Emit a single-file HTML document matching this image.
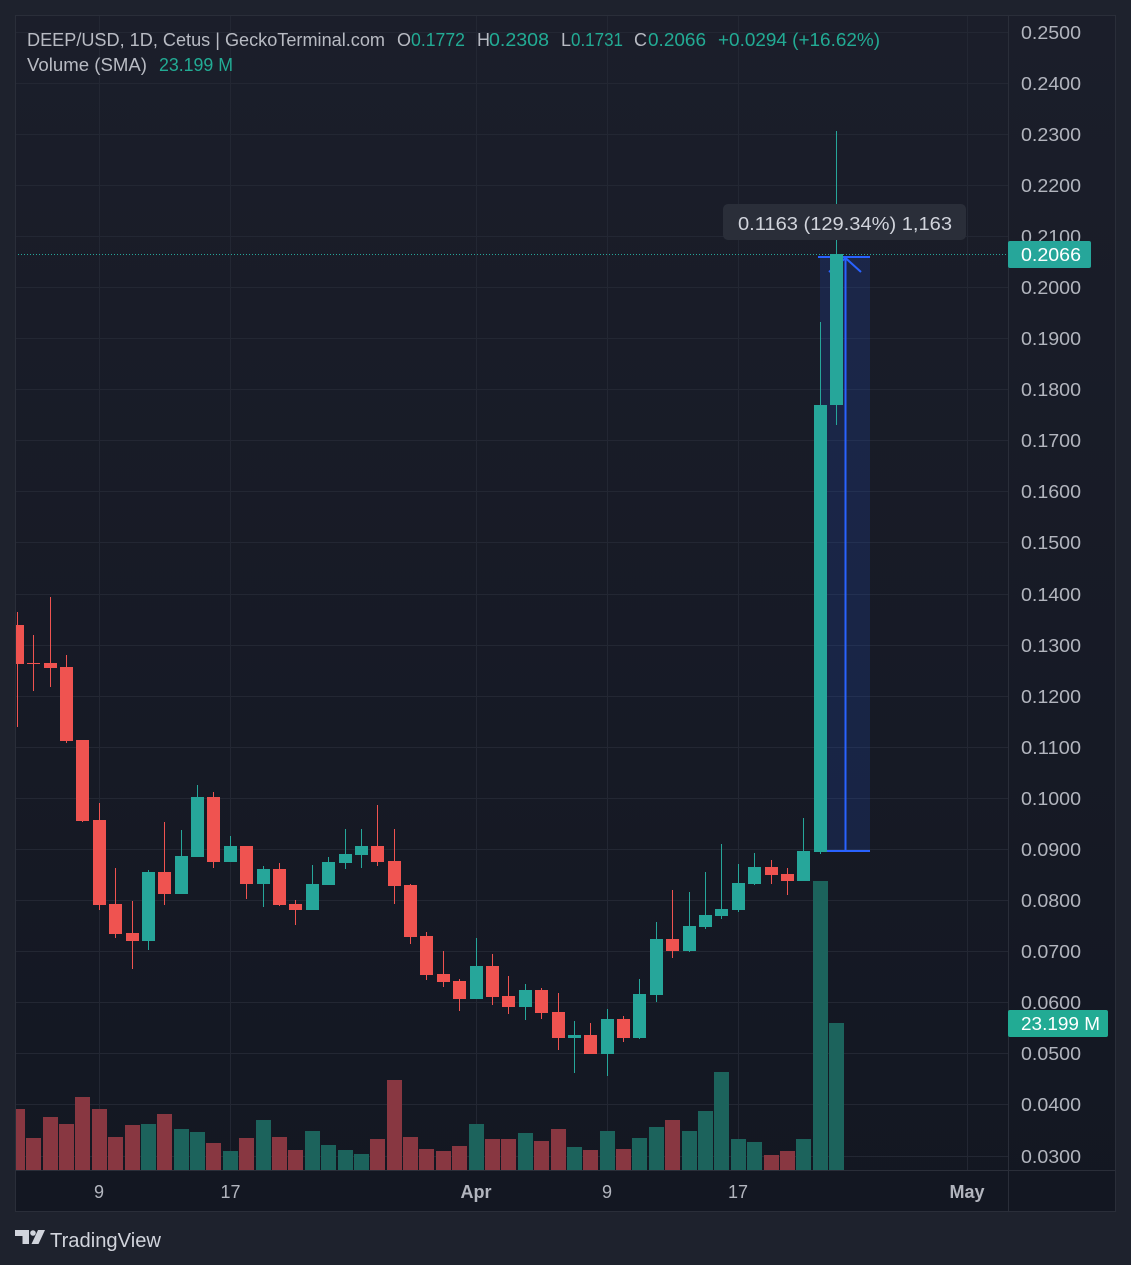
<!DOCTYPE html>
<html>
<head>
<meta charset="utf-8">
<style>
html,body{margin:0;padding:0;background:#1e222d;}
svg{display:block;}
text{font-family:"Liberation Sans",sans-serif;}
</style>
</head>
<body>
<svg width="1131" height="1265" viewBox="0 0 1131 1265" xmlns="http://www.w3.org/2000/svg">
<defs>
<linearGradient id="bg" x1="0" y1="0" x2="0" y2="1">
<stop offset="0" stop-color="#1b1e2a"/>
<stop offset="1" stop-color="#131722"/>
</linearGradient>
<clipPath id="pane"><rect x="16" y="16" width="992" height="1154"/></clipPath>
</defs>
<rect x="0" y="0" width="1131" height="1265" fill="#1e222d"/>
<rect x="15" y="15" width="1101" height="1197" fill="url(#bg)"/>

<g clip-path="url(#pane)">
<!-- horizontal grid -->
<g stroke="#232733" stroke-width="1">
<line x1="15" x2="1008" y1="32.5" y2="32.5"/>
<line x1="15" x2="1008" y1="83.5" y2="83.5"/>
<line x1="15" x2="1008" y1="134.5" y2="134.5"/>
<line x1="15" x2="1008" y1="185.5" y2="185.5"/>
<line x1="15" x2="1008" y1="236.5" y2="236.5"/>
<line x1="15" x2="1008" y1="287.5" y2="287.5"/>
<line x1="15" x2="1008" y1="338.5" y2="338.5"/>
<line x1="15" x2="1008" y1="389.5" y2="389.5"/>
<line x1="15" x2="1008" y1="440.5" y2="440.5"/>
<line x1="15" x2="1008" y1="491.5" y2="491.5"/>
<line x1="15" x2="1008" y1="542.5" y2="542.5"/>
<line x1="15" x2="1008" y1="594.5" y2="594.5"/>
<line x1="15" x2="1008" y1="645.5" y2="645.5"/>
<line x1="15" x2="1008" y1="696.5" y2="696.5"/>
<line x1="15" x2="1008" y1="747.5" y2="747.5"/>
<line x1="15" x2="1008" y1="798.5" y2="798.5"/>
<line x1="15" x2="1008" y1="849.5" y2="849.5"/>
<line x1="15" x2="1008" y1="900.5" y2="900.5"/>
<line x1="15" x2="1008" y1="951.5" y2="951.5"/>
<line x1="15" x2="1008" y1="1002.5" y2="1002.5"/>
<line x1="15" x2="1008" y1="1053.5" y2="1053.5"/>
<line x1="15" x2="1008" y1="1104.5" y2="1104.5"/>
<line x1="15" x2="1008" y1="1156.5" y2="1156.5"/>
<!-- vertical grid -->
<line x1="99.5" x2="99.5" y1="15" y2="1170"/>
<line x1="230.5" x2="230.5" y1="15" y2="1170"/>
<line x1="476.5" x2="476.5" y1="15" y2="1170"/>
<line x1="607.5" x2="607.5" y1="15" y2="1170"/>
<line x1="738.5" x2="738.5" y1="15" y2="1170"/>
<line x1="967.5" x2="967.5" y1="15" y2="1170"/>
</g>

<!-- volume bars -->
<g fill="#883741">
<rect x="10" y="1109" width="15" height="61"/>
<rect x="26" y="1138" width="15" height="32"/>
<rect x="43" y="1117" width="15" height="53"/>
<rect x="59" y="1124" width="15" height="46"/>
<rect x="75" y="1097" width="15" height="73"/>
<rect x="92" y="1109" width="15" height="61"/>
<rect x="108" y="1137" width="15" height="33"/>
<rect x="125" y="1125" width="15" height="45"/>
<rect x="157" y="1114" width="15" height="56"/>
<rect x="206" y="1143" width="15" height="27"/>
<rect x="239" y="1138" width="15" height="32"/>
<rect x="272" y="1137" width="15" height="33"/>
<rect x="288" y="1150" width="15" height="20"/>
<rect x="370" y="1139" width="15" height="31"/>
<rect x="387" y="1080" width="15" height="90"/>
<rect x="403" y="1137" width="15" height="33"/>
<rect x="419" y="1149" width="15" height="21"/>
<rect x="436" y="1151" width="15" height="19"/>
<rect x="452" y="1146" width="15" height="24"/>
<rect x="485" y="1139" width="15" height="31"/>
<rect x="501" y="1139" width="15" height="31"/>
<rect x="534" y="1141" width="15" height="29"/>
<rect x="551" y="1129" width="15" height="41"/>
<rect x="583" y="1150" width="15" height="20"/>
<rect x="616" y="1149" width="15" height="21"/>
<rect x="665" y="1120" width="15" height="50"/>
<rect x="764" y="1155" width="15" height="15"/>
<rect x="780" y="1151" width="15" height="19"/>
</g>
<g fill="#1c635c">
<rect x="141" y="1124" width="15" height="46"/>
<rect x="174" y="1129" width="15" height="41"/>
<rect x="190" y="1132" width="15" height="38"/>
<rect x="223" y="1151" width="15" height="19"/>
<rect x="256" y="1120" width="15" height="50"/>
<rect x="305" y="1131" width="15" height="39"/>
<rect x="321" y="1145" width="15" height="25"/>
<rect x="338" y="1150" width="15" height="20"/>
<rect x="354" y="1154" width="15" height="16"/>
<rect x="469" y="1124" width="15" height="46"/>
<rect x="518" y="1133" width="15" height="37"/>
<rect x="567" y="1147" width="15" height="23"/>
<rect x="600" y="1131" width="15" height="39"/>
<rect x="632" y="1138" width="15" height="32"/>
<rect x="649" y="1127" width="15" height="43"/>
<rect x="682" y="1131" width="15" height="39"/>
<rect x="698" y="1111" width="15" height="59"/>
<rect x="714" y="1072" width="15" height="98"/>
<rect x="731" y="1139" width="15" height="31"/>
<rect x="747" y="1142" width="15" height="28"/>
<rect x="796" y="1139" width="15" height="31"/>
<rect x="813" y="881" width="15" height="289"/>
<rect x="829" y="1023" width="15" height="147"/>
</g>

<!-- dotted last price line -->
<line x1="15" x2="1008" y1="254.5" y2="254.5" stroke="#26a69a" stroke-width="1" stroke-dasharray="1 2"/>

<!-- measure drawing -->
<rect x="820" y="257" width="50" height="593" fill="#2962ff" fill-opacity="0.15"/>
<g stroke="#2962ff" stroke-width="2" fill="none">
<line x1="818" x2="870" y1="257" y2="257"/>
<line x1="820" x2="870" y1="851" y2="851"/>
<line x1="845.5" x2="845.5" y1="258" y2="851"/>
<polyline points="829,272 845.5,258 861,272"/>
</g>

<!-- red candles -->
<g fill="#ef5350">
<rect x="17" y="612" width="1" height="115"/><rect x="11" y="625" width="13" height="39"/>
<rect x="33" y="635" width="1" height="56"/><rect x="27" y="663" width="13" height="1"/>
<rect x="50" y="597" width="1" height="90"/><rect x="44" y="663" width="13" height="5"/>
<rect x="66" y="655" width="1" height="88"/><rect x="60" y="667" width="13" height="74"/>
<rect x="82" y="740" width="1" height="82"/><rect x="76" y="740" width="13" height="81"/>
<rect x="99" y="803" width="1" height="107"/><rect x="93" y="820" width="13" height="85"/>
<rect x="115" y="868" width="1" height="70"/><rect x="109" y="904" width="13" height="30"/>
<rect x="132" y="901" width="1" height="68"/><rect x="126" y="933" width="13" height="8"/>
<rect x="164" y="822" width="1" height="83"/><rect x="158" y="872" width="13" height="22"/>
<rect x="213" y="792" width="1" height="76"/><rect x="207" y="797" width="13" height="65"/>
<rect x="246" y="846" width="1" height="53"/><rect x="240" y="846" width="13" height="38"/>
<rect x="279" y="863" width="1" height="43"/><rect x="273" y="869" width="13" height="36"/>
<rect x="295" y="900" width="1" height="25"/><rect x="289" y="904" width="13" height="6"/>
<rect x="377" y="805" width="1" height="61"/><rect x="371" y="846" width="13" height="16"/>
<rect x="394" y="829" width="1" height="75"/><rect x="388" y="861" width="13" height="25"/>
<rect x="410" y="884" width="1" height="60"/><rect x="404" y="885" width="13" height="52"/>
<rect x="426" y="932" width="1" height="48"/><rect x="420" y="936" width="13" height="39"/>
<rect x="443" y="951" width="1" height="36"/><rect x="437" y="974" width="13" height="8"/>
<rect x="459" y="979" width="1" height="32"/><rect x="453" y="981" width="13" height="18"/>
<rect x="492" y="954" width="1" height="51"/><rect x="486" y="966" width="13" height="31"/>
<rect x="508" y="976" width="1" height="38"/><rect x="502" y="996" width="13" height="11"/>
<rect x="541" y="988" width="1" height="31"/><rect x="535" y="990" width="13" height="23"/>
<rect x="558" y="993" width="1" height="57"/><rect x="552" y="1012" width="13" height="26"/>
<rect x="590" y="1023" width="1" height="31"/><rect x="584" y="1035" width="13" height="19"/>
<rect x="623" y="1016" width="1" height="26"/><rect x="617" y="1019" width="13" height="19"/>
<rect x="672" y="890" width="1" height="68"/><rect x="666" y="939" width="13" height="12"/>
<rect x="771" y="860" width="1" height="24"/><rect x="765" y="867" width="13" height="8"/>
<rect x="787" y="868" width="1" height="27"/><rect x="781" y="874" width="13" height="7"/>
</g>
<!-- green candles -->
<g fill="#26a69a">
<rect x="148" y="870" width="1" height="80"/><rect x="142" y="872" width="13" height="69"/>
<rect x="181" y="830" width="1" height="64"/><rect x="175" y="856" width="13" height="38"/>
<rect x="197" y="785" width="1" height="72"/><rect x="191" y="797" width="13" height="60"/>
<rect x="230" y="836" width="1" height="26"/><rect x="224" y="846" width="13" height="16"/>
<rect x="263" y="866" width="1" height="41"/><rect x="257" y="869" width="13" height="15"/>
<rect x="312" y="865" width="1" height="45"/><rect x="306" y="884" width="13" height="26"/>
<rect x="328" y="857" width="1" height="28"/><rect x="322" y="862" width="13" height="23"/>
<rect x="345" y="829" width="1" height="40"/><rect x="339" y="854" width="13" height="9"/>
<rect x="361" y="829" width="1" height="39"/><rect x="355" y="846" width="13" height="9"/>
<rect x="476" y="938" width="1" height="61"/><rect x="470" y="966" width="13" height="33"/>
<rect x="525" y="984" width="1" height="36"/><rect x="519" y="990" width="13" height="17"/>
<rect x="574" y="1021" width="1" height="52"/><rect x="568" y="1035" width="13" height="3"/>
<rect x="607" y="1009" width="1" height="67"/><rect x="601" y="1019" width="13" height="35"/>
<rect x="639" y="979" width="1" height="60"/><rect x="633" y="994" width="13" height="44"/>
<rect x="656" y="922" width="1" height="80"/><rect x="650" y="939" width="13" height="56"/>
<rect x="689" y="892" width="1" height="60"/><rect x="683" y="926" width="13" height="25"/>
<rect x="705" y="872" width="1" height="57"/><rect x="699" y="915" width="13" height="12"/>
<rect x="721" y="844" width="1" height="75"/><rect x="715" y="909" width="13" height="7"/>
<rect x="738" y="864" width="1" height="48"/><rect x="732" y="883" width="13" height="27"/>
<rect x="754" y="853" width="1" height="32"/><rect x="748" y="867" width="13" height="17"/>
<rect x="803" y="818" width="1" height="63"/><rect x="797" y="851" width="13" height="30"/>
<rect x="820" y="322" width="1" height="532"/><rect x="814" y="405" width="13" height="447"/>
<rect x="836" y="131" width="1" height="294"/><rect x="830" y="254" width="13" height="151"/>
</g>
</g>

<!-- separators and border -->
<g stroke="#2a2e39" stroke-width="1" fill="none">
<rect x="15.5" y="15.5" width="1100" height="1196"/>
<line x1="1008.5" x2="1008.5" y1="15" y2="1212"/>
<line x1="15" x2="1116" y1="1170.5" y2="1170.5"/>
</g>

<!-- price axis labels -->
<g fill="#b2b5be" font-size="18">
<text x="1021" y="39" textLength="60" lengthAdjust="spacingAndGlyphs">0.2500</text>
<text x="1021" y="90" textLength="60" lengthAdjust="spacingAndGlyphs">0.2400</text>
<text x="1021" y="141" textLength="60" lengthAdjust="spacingAndGlyphs">0.2300</text>
<text x="1021" y="192" textLength="60" lengthAdjust="spacingAndGlyphs">0.2200</text>
<text x="1021" y="243" textLength="60" lengthAdjust="spacingAndGlyphs">0.2100</text>
<text x="1021" y="294" textLength="60" lengthAdjust="spacingAndGlyphs">0.2000</text>
<text x="1021" y="345" textLength="60" lengthAdjust="spacingAndGlyphs">0.1900</text>
<text x="1021" y="396" textLength="60" lengthAdjust="spacingAndGlyphs">0.1800</text>
<text x="1021" y="447" textLength="60" lengthAdjust="spacingAndGlyphs">0.1700</text>
<text x="1021" y="498" textLength="60" lengthAdjust="spacingAndGlyphs">0.1600</text>
<text x="1021" y="549" textLength="60" lengthAdjust="spacingAndGlyphs">0.1500</text>
<text x="1021" y="601" textLength="60" lengthAdjust="spacingAndGlyphs">0.1400</text>
<text x="1021" y="652" textLength="60" lengthAdjust="spacingAndGlyphs">0.1300</text>
<text x="1021" y="703" textLength="60" lengthAdjust="spacingAndGlyphs">0.1200</text>
<text x="1021" y="754" textLength="60" lengthAdjust="spacingAndGlyphs">0.1100</text>
<text x="1021" y="805" textLength="60" lengthAdjust="spacingAndGlyphs">0.1000</text>
<text x="1021" y="856" textLength="60" lengthAdjust="spacingAndGlyphs">0.0900</text>
<text x="1021" y="907" textLength="60" lengthAdjust="spacingAndGlyphs">0.0800</text>
<text x="1021" y="958" textLength="60" lengthAdjust="spacingAndGlyphs">0.0700</text>
<text x="1021" y="1009" textLength="60" lengthAdjust="spacingAndGlyphs">0.0600</text>
<text x="1021" y="1060" textLength="60" lengthAdjust="spacingAndGlyphs">0.0500</text>
<text x="1021" y="1111" textLength="60" lengthAdjust="spacingAndGlyphs">0.0400</text>
<text x="1021" y="1163" textLength="60" lengthAdjust="spacingAndGlyphs">0.0300</text>
</g>

<!-- price label boxes -->
<rect x="1008" y="241" width="83" height="27" rx="2" fill="#26a69a"/>
<text x="1021" y="261" font-size="18" fill="#ffffff" textLength="60" lengthAdjust="spacingAndGlyphs">0.2066</text>
<rect x="1008" y="1010" width="100" height="27" rx="2" fill="#22ab94"/>
<text x="1021" y="1030" font-size="18" fill="#ffffff" textLength="79" lengthAdjust="spacingAndGlyphs">23.199 M</text>

<!-- time axis labels -->
<g fill="#b2b5be" font-size="18" text-anchor="middle">
<text x="99" y="1198">9</text>
<text x="230.5" y="1198">17</text>
<text x="476" y="1198" font-weight="bold">Apr</text>
<text x="607" y="1198">9</text>
<text x="738" y="1198">17</text>
<text x="967" y="1198" font-weight="bold">May</text>
</g>

<!-- measure tooltip -->
<rect x="723" y="204" width="243" height="36" rx="5" fill="#2a2e39"/>
<text x="738" y="230" font-size="18" fill="#d1d4dc" textLength="214" lengthAdjust="spacingAndGlyphs">0.1163 (129.34%) 1,163</text>

<!-- legend -->
<g font-size="18">
<text x="27" y="46" fill="#b8bbc3" textLength="358" lengthAdjust="spacingAndGlyphs">DEEP/USD, 1D, Cetus | GeckoTerminal.com</text>
<text x="397" y="46" fill="#b8bbc3">O</text>
<text x="411" y="46" fill="#22ab94" textLength="54" lengthAdjust="spacingAndGlyphs">0.1772</text>
<text x="477" y="46" fill="#b8bbc3">H</text>
<text x="489" y="46" fill="#22ab94" textLength="60" lengthAdjust="spacingAndGlyphs">0.2308</text>
<text x="561" y="46" fill="#b8bbc3">L</text>
<text x="571" y="46" fill="#22ab94" textLength="52" lengthAdjust="spacingAndGlyphs">0.1731</text>
<text x="634" y="46" fill="#b8bbc3">C</text>
<text x="648" y="46" fill="#22ab94" textLength="58" lengthAdjust="spacingAndGlyphs">0.2066</text>
<text x="718" y="46" fill="#22ab94" textLength="162" lengthAdjust="spacingAndGlyphs">+0.0294 (+16.62%)</text>
<text x="27" y="71" fill="#b8bbc3" textLength="120" lengthAdjust="spacingAndGlyphs">Volume (SMA)</text>
<text x="159" y="71" fill="#22ab94" textLength="74" lengthAdjust="spacingAndGlyphs">23.199 M</text>
</g>

<!-- TradingView logo -->
<g fill="#d1d4dc">
<path d="M15 1230 H29 V1244 H22.5 V1236 H15 Z"/>
<circle cx="33" cy="1233" r="2.8"/>
<path d="M38 1230 H45 L38.5 1244 H31.5 Z"/>
<text x="50" y="1247" font-size="20" textLength="111" lengthAdjust="spacingAndGlyphs">TradingView</text>
</g>
</svg>
</body>
</html>
